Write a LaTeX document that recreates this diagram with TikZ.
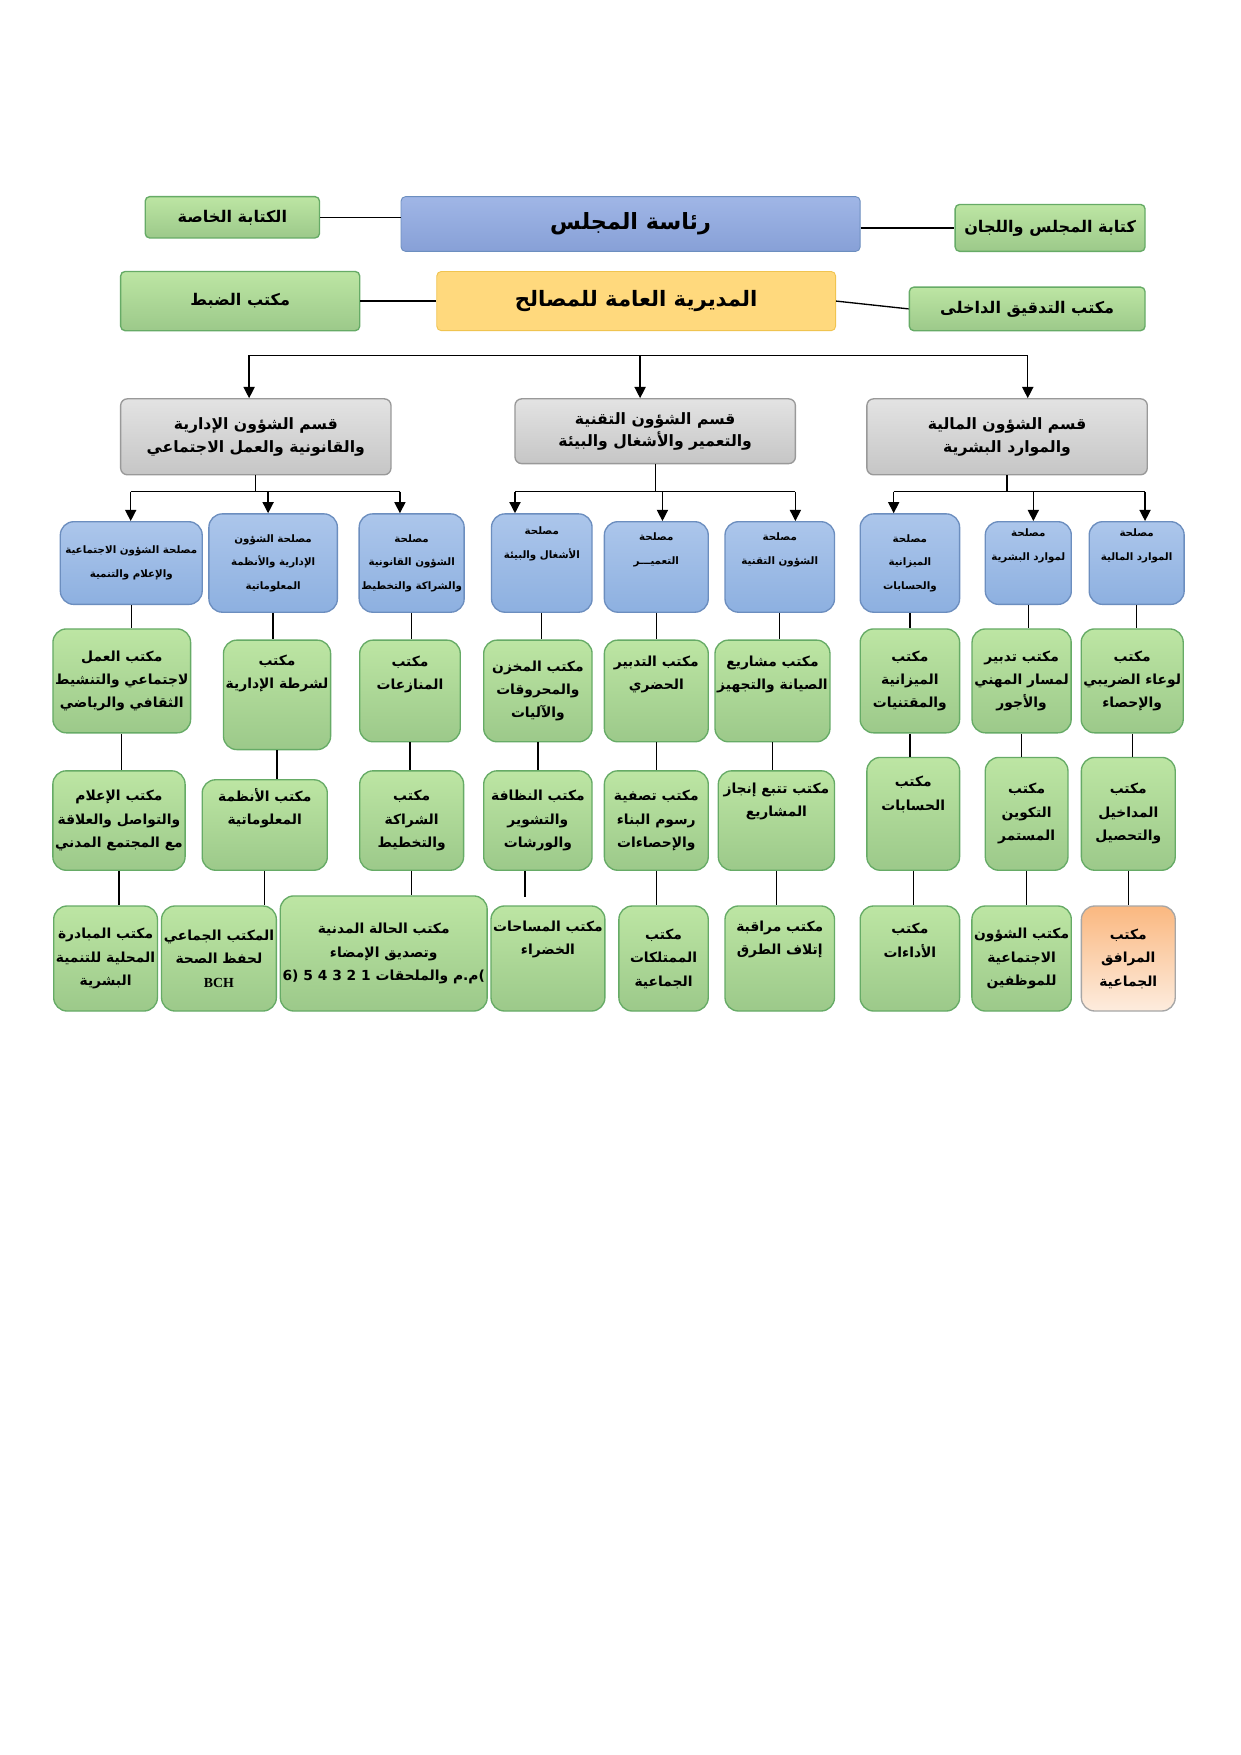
\documentclass[tikz,border=0pt]{standalone}
\usepackage{fontspec}
\setmainfont{Liberation Serif}
\newfontfamily\ar[Script=Arabic]{DejaVu Sans}
\TeXXeTstate=1
\usetikzlibrary{arrows.meta}
\newcommand\rl[1]{\beginR #1\endR}
\newcommand\bx[7]{\node[#2,minimum width={(#5-#3)*0.5pt},minimum height={(#6-#4)*0.5pt}] (#1) at ({(#3+#5)/2},{(#4+#6)/2}) {#7};}
\tikzset{
 base/.style={align=center,inner sep=1pt,font=\ar\bfseries},
 grn/.style={base,rounded corners=6pt,draw=green!45!black!60,top color=green!20!white!80!olive,bottom color={rgb,255:red,156;green,201;blue,138},line width=0.6pt,font=\ar\bfseries\fontsize{6.2}{10.5}\selectfont},
 grnA/.style={grn,rounded corners=2pt,font=\ar\bfseries\fontsize{7.2}{9}\selectfont},
 blu/.style={base,rounded corners=6pt,draw={rgb,255:red,108;green,142;blue,191},top color={rgb,255:red,172;green,198;blue,235},bottom color={rgb,255:red,141;green,176;blue,224},line width=0.6pt,font=\ar\bfseries\fontsize{4.6}{10.5}\selectfont},
 gry/.style={base,rounded corners=3pt,draw=gray!80,top color=gray!22,bottom color=gray!45,line width=0.6pt,font=\ar\bfseries\fontsize{7}{10}\selectfont},
 orng/.style={grn,draw=gray!70,top color={rgb,255:red,250;green,184;blue,128},bottom color={rgb,255:red,253;green,236;blue,222}},
 ln/.style={line width=0.6pt},
 arr/.style={line width=0.6pt,-{Triangle[length=5pt,width=5pt]}}
}
\begin{document}
\begin{tikzpicture}[x=0.5pt,y=-0.5pt]
\useasboundingbox[fill=white] (0,0) rectangle (1110,1571);
% top
\bx{kh}{grnA}{130}{176}{286}{213}{\rl{الكتابة الخاصة}}
\bx{ra}{base,rounded corners=2pt,draw={rgb,255:red,108;green,142;blue,191},top color={rgb,255:red,160;green,182;blue,230},bottom color={rgb,255:red,135;green,160;blue,215},font=\ar\bfseries\fontsize{10}{12}\selectfont}{359}{176}{770}{225}{\rl{رئاسة المجلس}}
\bx{kl}{grnA}{855}{183}{1025}{225}{\rl{كتابة المجلس واللجان}}
\bx{db}{grnA}{108}{243}{322}{296}{\rl{مكتب الضبط}}
\bx{md}{base,rounded corners=2pt,draw={rgb,255:red,240;green,196;blue,80},fill={rgb,255:red,255;green,217;blue,125},font=\ar\bfseries\fontsize{9.5}{12}\selectfont}{391}{243}{748}{296}{\rl{المديرية العامة للمصالح}}
\bx{td}{grnA}{814}{257}{1025}{296}{\rl{مكتب التدقيق الداخلى}}
\draw[ln] (kh.east) -- (kh.east -| ra.west);
\draw[ln] (ra.east |- kl.west) -- (kl.west);
\draw[ln] (db.east) -- (md.west);
\draw[ln] (md.east) -- (td.west);
% departments
\bx{dL}{gry}{108}{357}{350}{425}{\rl{قسم الشؤون الإدارية}\\\rl{والقانونية والعمل الاجتماعي}}
\bx{dM}{gry}{461}{357}{712}{415}{\rl{قسم الشؤون التقنية}\\\rl{والتعمير والأشغال والبيئة}}
\bx{dR}{gry}{776}{357}{1027}{425}{\rl{قسم الشؤون المالية}\\\rl{والموارد البشرية}}
\coordinate (bus1) at (223,318);
\coordinate (bus2) at (920,318);
\coordinate (bus3) at (573,318);
\draw[ln] (bus1) -- (bus2);
\draw[arr] (bus1) -- (bus1 |- dL.north);
\draw[arr] (bus3) -- (bus3 |- dM.north);
\draw[arr] (bus2) -- (bus2 |- dR.north);
% services
\bx{s1}{blu}{54}{467}{181}{541}{\rl{مصلحة الشؤون الاجتماعية}\\\rl{والإعلام والتنمية}}
\bx{s2}{blu}{187}{460}{302}{548}{\rl{مصلحة الشؤون}\\\rl{الإدارية والأنظمة}\\\rl{المعلوماتية}}
\bx{s3}{blu}{322}{460}{415}{548}{\rl{مصلحة}\\\rl{الشؤون القانونية}\\\rl{والشراكة والتخطيط}}
\bx{s4}{blu}{440}{460}{530}{548}{\rl{مصلحة}\\\rl{الأشغال والبيئة}\\[8pt]}
\bx{s5}{blu}{541}{467}{634}{548}{\rl{مصلحة}\\\rl{التعميـــر}\\[6pt]}
\bx{s6}{blu}{649}{467}{747}{548}{\rl{مصلحة}\\\rl{الشؤون التقنية}\\[6pt]}
\bx{s7}{blu}{770}{460}{859}{548}{\rl{مصلحة}\\\rl{الميزانية}\\\rl{والحسابات}}
\bx{s8}{blu}{882}{467}{959}{541}{\rl{مصلحة}\\\rl{لموارد البشرية}\\[6pt]}
\bx{s9}{blu}{975}{467}{1060}{541}{\rl{مصلحة}\\\rl{الموارد المالية}\\[6pt]}
\foreach \a/\b/\c/\d/\e/\f/\g/\h in {117/358/240/dL/s1/s2/s3/440, 461/712/593/dM/s4/s5/s6/440, 800/1025/925/dR/s7/s8/s9/440}{
 \coordinate (l) at (\a,\h); \coordinate (r) at (\b,\h); \coordinate (m) at (\c,\h);
 \draw[ln] (l) -- (r);
 \draw[ln] (\d.south) -- (\d.south |- l);
 \draw[arr] (l) -- (l |- \e.north);
 \draw[arr] (m) -- (m |- \f.north);
 \draw[arr] (r) -- (r |- \g.north);
}
% row A
\bx{a1}{grn}{54}{563}{164}{656}{\rl{مكتب العمل}\\\rl{لاجتماعي والتنشيط}\\\rl{الثقافي والرياضي}}
\bx{a2}{grn}{203}{573}{293}{671}{\rl{مكتب}\\\rl{لشرطة الإدارية}\\[10pt]}
\bx{a3}{grn}{322}{573}{412}{664}{\rl{مكتب}\\\rl{المنازعات}\\[6pt]}
\bx{a4}{grn}{433}{573}{530}{664}{\rl{مكتب المخزن}\\\rl{والمحروقات}\\\rl{والآليات}}
\bx{a5}{grn}{541}{573}{634}{664}{\rl{مكتب التدبير}\\\rl{الحضري}\\[6pt]}
\bx{a6}{grn}{643}{573}{740}{664}{\rl{مكتب مشاريع}\\\rl{الصيانة والتجهيز}\\[6pt]}
\bx{a7}{grn}{770}{563}{859}{656}{\rl{مكتب}\\\rl{الميزانية}\\\rl{والمقتنيات}}
\bx{a8}{grn}{873}{563}{956}{656}{\rl{مكتب تدبير}\\\rl{لمسار المهني}\\\rl{والأجور}}
\bx{a9}{grn}{968}{563}{1059}{656}{\rl{مكتب}\\\rl{لوعاء الضريبي}\\\rl{والإحصاء}}
% row B
\bx{b1}{grn}{49}{690}{164}{779}{\rl{مكتب الإعلام}\\\rl{والتواصل والعلاقة}\\\rl{مع المجتمع المدني}}
\bx{b2}{grn}{181}{698}{293}{779}{\rl{مكتب الأنظمة}\\\rl{المعلوماتية}\\[6pt]}
\bx{b3}{grn}{322}{690}{415}{779}{\rl{مكتب}\\\rl{الشراكة}\\\rl{والتخطيط}}
\bx{b4}{grn}{433}{690}{530}{779}{\rl{مكتب النظافة}\\\rl{والتشوير}\\\rl{والورشات}}
\bx{b5}{grn}{541}{690}{634}{779}{\rl{مكتب تصفية}\\\rl{رسوم البناء}\\\rl{والإحصاءات}}
\bx{b6}{grn}{643}{690}{747}{779}{\rl{مكتب تتبع إنجاز}\\\rl{المشاريع}\\[8pt]}
\bx{b7}{grn}{776}{678}{859}{779}{\rl{مكتب}\\\rl{الحسابات}\\[8pt]}
\bx{b8}{grn}{882}{678}{956}{779}{\rl{مكتب}\\\rl{التكوين}\\\rl{المستمر}}
\bx{b9}{grn}{968}{678}{1052}{779}{\rl{مكتب}\\\rl{المداخيل}\\\rl{والتحصيل}}
% row C
\bx{c1}{grn}{49}{811}{140}{905}{\rl{مكتب المبادرة}\\\rl{المحلية للتنمية}\\\rl{البشرية}}
\bx{c2}{grn}{148}{811}{244}{905}{\rl{المكتب الجماعي}\\\rl{لحفظ الصحة}\\{\rmfamily BCH}}
\bx{c3}{grn}{254}{802}{433}{905}{\rl{مكتب الحالة المدنية}\\\rl{وتصديق الإمضاء}\\\beginL(6 5 4 3 2 1 \beginR م.م والملحقات\endR)\endL}
\bx{c4}{grn}{440}{811}{541}{905}{\rl{مكتب المساحات}\\\rl{الخضراء}\\[8pt]}
\bx{c5}{grn}{554}{811}{634}{905}{\rl{مكتب}\\\rl{الممتلكات}\\\rl{الجماعية}}
\bx{c6}{grn}{649}{811}{747}{905}{\rl{مكتب مراقبة}\\\rl{إتلاف الطرق}\\[8pt]}
\bx{c7}{grn}{770}{811}{859}{905}{\rl{مكتب}\\\rl{الأداءات}\\[6pt]}
\bx{c8}{grn}{873}{811}{956}{905}{\rl{مكتب الشؤون}\\\rl{الاجتماعية}\\\rl{للموظفين}}
\bx{c9}{orng}{968}{811}{1052}{905}{\rl{مكتب}\\\rl{المرافق}\\\rl{الجماعية}}
\coordinate (c4t) at (470,803);
% vertical links
\foreach \i in {1,2,3,4,5,6,7,8,9}{
 \draw[ln] (s\i.south) -- (s\i.south |- a\i.north);
 \draw[ln] (a\i.south) -- (a\i.south |- b\i.north);
}
\foreach \i in {1,2,3,5,6,7,8,9}{
 \draw[ln] (b\i.south) -- (b\i.south |- c\i.north);
}
\draw[ln] (b4.south -| c4t) -- (c4t);
\end{tikzpicture}
\end{document}
